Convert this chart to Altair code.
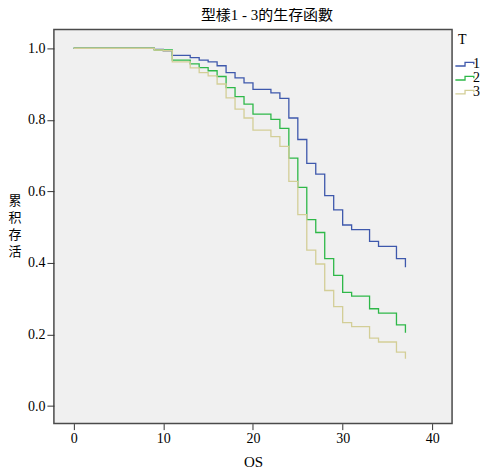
import altair as alt
import pandas as pd

times = [0, 9, 10, 11, 13, 14, 15, 16, 17, 18, 19, 20, 22, 23, 24, 25, 26, 27, 28, 29, 30, 31, 33, 34, 36, 37]
surv_1 = [1.0, 0.997, 0.993, 0.980, 0.974, 0.967, 0.962, 0.951, 0.932, 0.917, 0.903, 0.885, 0.875, 0.860,
          0.805, 0.745, 0.678, 0.648, 0.588, 0.548, 0.506, 0.493, 0.460, 0.446, 0.412, 0.388]
surv_2 = [1.0, 0.995, 0.995, 0.967, 0.956, 0.946, 0.937, 0.921, 0.890, 0.865, 0.844, 0.816, 0.801, 0.776,
          0.693, 0.611, 0.521, 0.485, 0.412, 0.365, 0.318, 0.307, 0.272, 0.260, 0.227, 0.205]
surv_3 = [1.0, 0.995, 0.993, 0.962, 0.945, 0.932, 0.923, 0.900, 0.861, 0.830, 0.805, 0.771, 0.753, 0.726,
          0.628, 0.535, 0.436, 0.397, 0.323, 0.278, 0.233, 0.222, 0.190, 0.179, 0.151, 0.132]
groups = ["1", "2", "3"]
colors = ["#3E58AC", "#2EB848", "#D3CE97"]
x_ticks = [0, 10, 20, 30, 40]
y_ticks = [0.0, 0.2, 0.4, 0.6, 0.8, 1.0]
y_title = "累\n积\n存\n活"

rows = []
for g, s in zip(groups, [surv_1, surv_2, surv_3]):
    for t, v in zip(times, s):
        rows.append({"OS": t, "S": v, "T": g})
df = pd.DataFrame(rows)

serif = "Liberation Serif, Noto Sans CJK TC"

lines = alt.Chart(df).mark_line(interpolate="step-after", strokeWidth=1.3).encode(
    x=alt.X("OS:Q",
            scale=alt.Scale(domain=[-2.2, 42.2], nice=False, zero=False),
            axis=alt.Axis(values=x_ticks, format="d", title="OS", grid=False, domain=False,
                          tickSize=6, tickColor="#333333", tickWidth=1,
                          labelFont=serif, labelFontSize=14, labelColor="black", labelPadding=2,
                          titleFont=serif, titleFontSize=15, titleFontWeight="normal", titleColor="black",
                          titleBaseline="alphabetic", titleY=43)),
    y=alt.Y("S:Q",
            scale=alt.Scale(domain=[-0.049, 1.0525], nice=False, zero=False),
            axis=alt.Axis(values=y_ticks, format=".1f", title=None, grid=False, domain=False,
                          tickSize=7, tickColor="#333333", tickWidth=1,
                          labelFont=serif, labelFontSize=14, labelColor="black", labelPadding=2)),
    color=alt.Color("T:N",
                    scale=alt.Scale(domain=groups, range=colors),
                    legend=alt.Legend(orient="none", legendX=405, legendY=4,
                                      title="T", titleFont=serif, titleFontSize=14,
                                      titleFontWeight="normal", titleColor="black",
                                      titleAnchor="start", titlePadding=10,
                                      symbolType="M-1.76,0.3H0V-0.35H1.6V0",
                                      symbolSize=121, symbolStrokeWidth=1.3,
                                      symbolFillColor="transparent",
                                      labelFont=serif, labelFontSize=14, labelColor="black",
                                      labelOffset=1, rowPadding=0)),
)

ytitle = alt.Chart(pd.DataFrame({"label": [y_title]})).mark_text(
    lineBreak="\n", align="center", baseline="top", font="Noto Sans CJK SC",
    fontSize=13, lineHeight=17, color="black"
).encode(
    x=alt.value(-39), y=alt.value(166), text="label:N"
)

chart = alt.layer(lines, ytitle).properties(
    width=399,
    height=395,
    background="white",
    title=alt.TitleParams("型樣1 - 3的生存函數", font=serif, fontSize=15, fontWeight="normal",
                          color="black", anchor="middle", dx=14, offset=6),
    autosize=alt.AutoSizeParams(type="none"),
    padding={"left": 46, "top": 21, "right": 31, "bottom": 46},
).configure_view(
    fill="#F0F0F0", stroke="#4a4a4a", strokeWidth=1.5
)

chart.save("out.html", embed_options={"renderer": "svg", "actions": False})
